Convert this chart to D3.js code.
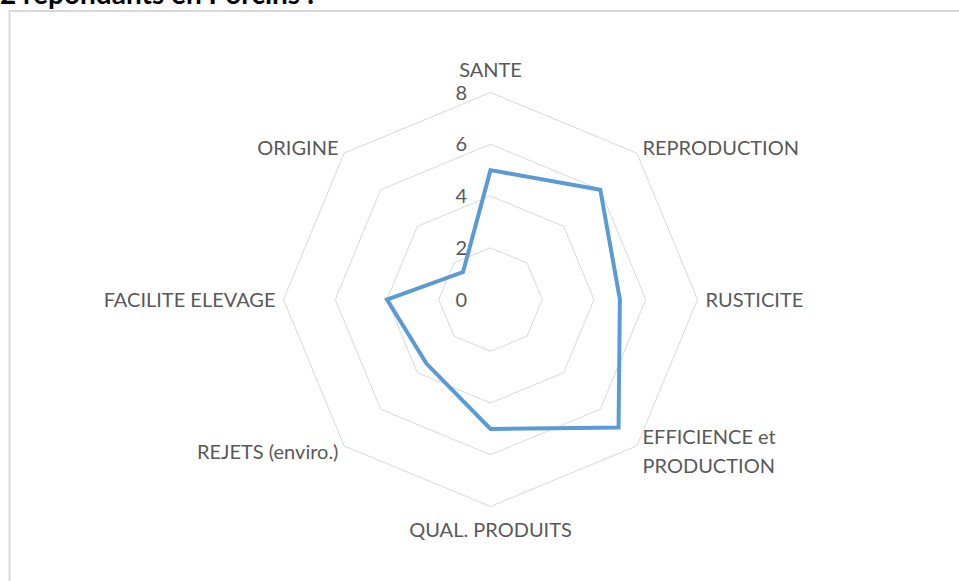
<!DOCTYPE html>
<html>
<head>
<meta charset="utf-8">
<script src="https://cdn.jsdelivr.net/npm/d3@7"></script>
<style>
  html, body { margin: 0; padding: 0; background: #fff; overflow: hidden; }
  svg { display: block; }
</style>
</head>
<body>
<div id="chart"></div>
<script>
// chart data
const categories = ["SANTE", "REPRODUCTION", "RUSTICITE", "EFFICIENCE et\nPRODUCTION",
  "QUAL. PRODUITS", "REJETS (enviro.)", "FACILITE ELEVAGE", "ORIGINE"];
const values = [5, 6, 5, 7, 5, 3.5, 4, 1.5];
const ticks = [0, 2, 4, 6, 8];
const title = "2 répondants en Porcins :";

const width = 959;
const height = 581;
const cx = 490.5;
const cy = 299.5;
const radius = 207;

const svg = d3.select("#chart").append("svg")
  .attr("width", width)
  .attr("height", height);

// title, cut by the top edge like in the screenshot
svg.append("text")
  .attr("x", 0)
  .attr("y", 4)
  .attr("font-family", "Lato, 'Liberation Sans', sans-serif")
  .attr("font-weight", "bold")
  .attr("font-size", 28)
  .attr("fill", "#000")
  .text(title);

// chart area border (goes past the right and bottom edge)
svg.append("rect")
  .attr("x", 9.5)
  .attr("y", 11)
  .attr("width", 1000)
  .attr("height", 1000)
  .attr("fill", "#fff")
  .attr("stroke", "#d9d9d9")
  .attr("stroke-width", 2);

const r = d3.scaleLinear()
  .domain([0, d3.max(ticks)])
  .range([0, radius]);

const angle = d3.scalePoint()
  .domain(d3.range(categories.length + 1))
  .range([0, 2 * Math.PI]);

const g = svg.append("g").attr("transform", `translate(${cx},${cy})`);

// grid rings
const ring = d3.lineRadial()
  .angle((d, i) => angle(i))
  .radius(d => r(d))
  .curve(d3.curveLinearClosed);

g.selectAll(".ring")
  .data(ticks.filter(t => t > 0))
  .enter()
  .append("path")
  .attr("class", "ring")
  .attr("d", t => ring(categories.map(() => t)))
  .attr("fill", "none")
  .attr("stroke", "#d9d9d9")
  .attr("stroke-width", 1);

// series line
g.append("path")
  .datum(values)
  .attr("d", ring)
  .attr("fill", "none")
  .attr("stroke", "#5b9bd5")
  .attr("stroke-width", 4)
  .attr("stroke-linejoin", "miter");

// tick labels
g.selectAll(".tick")
  .data(ticks)
  .enter()
  .append("text")
  .attr("class", "tick")
  .attr("x", -23.5)
  .attr("y", t => -r(t))
  .attr("dy", "0.36em")
  .attr("text-anchor", "end")
  .attr("font-family", "Lato, sans-serif")
  .attr("font-size", 20)
  .attr("fill", "#595959")
  .text(t => t);

// category labels
const lab = g.selectAll(".cat")
  .data(categories)
  .enter()
  .append("text")
  .attr("class", "cat")
  .attr("font-family", "Lato, sans-serif")
  .attr("font-size", 20)
  .attr("fill", "#595959")
  .attr("text-anchor", (d, i) => {
    const s = Math.sin(angle(i));
    return s > 0.1 ? "start" : s < -0.1 ? "end" : "middle";
  })
  .attr("transform", (d, i) => {
    const a = angle(i);
    const pad = Math.abs(Math.sin(a)) < 0.1 ? 23 : 8;
    const x = Math.sin(a) * (radius + pad);
    const y = -Math.cos(a) * (radius + pad);
    return `translate(${x},${y})`;
  });

lab.each(function(d) {
  const lines = d.split("\n");
  const lineH = 29;
  const top = -(lines.length - 1) * lineH / 2;
  d3.select(this).selectAll("tspan")
    .data(lines)
    .enter()
    .append("tspan")
    .attr("x", 0)
    .attr("y", (l, j) => top + j * lineH)
    .attr("dy", "0.36em")
    .text(l => l);
});
</script>
</body>
</html>
